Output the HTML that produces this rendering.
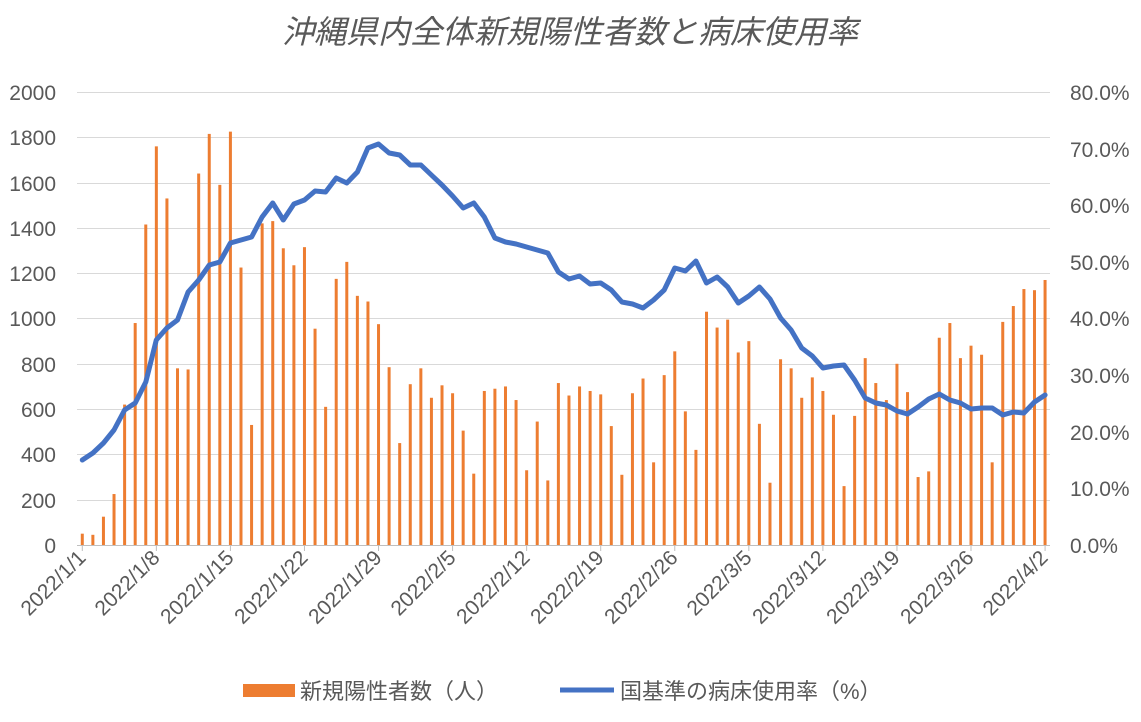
<!DOCTYPE html>
<html><head><meta charset="utf-8"><style>
body{margin:0;background:#fff}
svg{font-family:"Liberation Sans","Noto Sans CJK JP",sans-serif}
</style></head><body>
<svg id="c" width="1141" height="717" viewBox="0 0 1141 717" xmlns="http://www.w3.org/2000/svg">
<rect width="1141" height="717" fill="#fff"/>
<text x="570" y="43" text-anchor="middle" font-size="32" font-style="italic" fill="#595959" font-family="'Noto Sans CJK JP',sans-serif">沖縄県内全体新規陽性者数と病床使用率</text>
<g stroke="#d9d9d9" stroke-width="1">
<line x1="77" x2="1050" y1="92.5" y2="92.5"/><line x1="77" x2="1050" y1="137.5" y2="137.5"/>
<line x1="77" x2="1050" y1="183.5" y2="183.5"/><line x1="77" x2="1050" y1="228.5" y2="228.5"/>
<line x1="77" x2="1050" y1="273.5" y2="273.5"/><line x1="77" x2="1050" y1="318.5" y2="318.5"/>
<line x1="77" x2="1050" y1="364.5" y2="364.5"/><line x1="77" x2="1050" y1="409.5" y2="409.5"/>
<line x1="77" x2="1050" y1="454.5" y2="454.5"/><line x1="77" x2="1050" y1="500.5" y2="500.5"/>
</g>
<g font-size="21" fill="#595959" text-anchor="end">
<text x="56" y="100">2000</text><text x="56" y="145">1800</text><text x="56" y="191">1600</text>
<text x="56" y="236">1400</text><text x="56" y="281">1200</text><text x="56" y="326">1000</text>
<text x="56" y="372">800</text><text x="56" y="417">600</text><text x="56" y="462">400</text>
<text x="56" y="508">200</text><text x="56" y="553">0</text>
</g>
<g font-size="21" fill="#595959" text-anchor="start">
<text x="1070" y="100">80.0%</text><text x="1070" y="157">70.0%</text><text x="1070" y="213">60.0%</text>
<text x="1070" y="270">50.0%</text><text x="1070" y="326">40.0%</text><text x="1070" y="383">30.0%</text>
<text x="1070" y="440">20.0%</text><text x="1070" y="496">10.0%</text><text x="1070" y="553">0.0%</text>
</g>
<g id="bars" fill="#ed7d31"></g>
<line x1="77" x2="1050" y1="545.5" y2="545.5" stroke="#bfbfbf"/>
<g id="ticks" stroke="#bfbfbf"></g>
<polyline id="ln" fill="none" stroke="#4472c4" stroke-width="5" stroke-linejoin="round" stroke-linecap="round"/>
<g font-size="21" fill="#595959" text-anchor="end">
<text transform="translate(87,559) rotate(-45)">2022/1/1</text>
<text transform="translate(161,559) rotate(-45)">2022/1/8</text>
<text transform="translate(235,559) rotate(-45)">2022/1/15</text>
<text transform="translate(309,559) rotate(-45)">2022/1/22</text>
<text transform="translate(383,559) rotate(-45)">2022/1/29</text>
<text transform="translate(457,559) rotate(-45)">2022/2/5</text>
<text transform="translate(531,559) rotate(-45)">2022/2/12</text>
<text transform="translate(605,559) rotate(-45)">2022/2/19</text>
<text transform="translate(679,559) rotate(-45)">2022/2/26</text>
<text transform="translate(753,559) rotate(-45)">2022/3/5</text>
<text transform="translate(827,559) rotate(-45)">2022/3/12</text>
<text transform="translate(901,559) rotate(-45)">2022/3/19</text>
<text transform="translate(975,559) rotate(-45)">2022/3/26</text>
<text transform="translate(1049,559) rotate(-45)">2022/4/2</text>
</g>
<rect x="243" y="684" width="52" height="13" fill="#ed7d31"/>
<text x="300" y="699" font-size="22" fill="#595959">新規陽性者数（人）</text>
<line x1="560" x2="614" y1="690" y2="690" stroke="#4472c4" stroke-width="5"/>
<text x="620" y="699" font-size="22" fill="#595959">国基準の病床使用率（%）</text>
</svg>
<script>
var v=[50,45,125,225,620,980,1415,1760,1530,780,775,1640,1815,1590,1825,1225,530,1420,1430,1310,1235,1315,955,610,1175,1250,1100,1075,975,785,450,
710,780,650,705,670,505,315,680,690,700,640,330,545,285,715,660,700,680,665,525,310,670,735,365,750,855,590,420,
1030,960,995,850,900,535,275,820,780,650,740,680,575,260,570,825,715,640,800,675,300,325,915,980,825,880,840,365,985,1055,1130,
1125,1170];
var l=[460,453,443,430,410,403,382,340,328,320,292,280,265,262,243,240,237,217,203,220,204,200,191,192,178,183,172,148,144,153,155,
165,165,175,185,196,208,203,217,238,242,244,247,250,253,272,279,276,284,283,290,302,304,308,300,290,268,271,261,
283,277,287,303,296,287,299,318,330,348,356,368,366,365,380,398,403,405,411,414,407,399,394,400,403,409,408,408,415,412,413,
402,395];
var ns="http://www.w3.org/2000/svg",b=document.getElementById("bars"),t=document.getElementById("ticks"),pts=[];
var w=10.58,x0=77;
for(var i=0;i<v.length;i++){var cx=x0+w*(i+0.5),h=v[i]*453/2000;
var r=document.createElementNS(ns,"rect");r.setAttribute("x",cx-1.5);r.setAttribute("width",3);r.setAttribute("y",545-h);r.setAttribute("height",h);b.appendChild(r);
pts.push(cx.toFixed(1)+","+l[i]);}
for(var k=0;k<=13;k++){var x=x0+w*(k*7)+w*0.5;var q=document.createElementNS(ns,"line");q.setAttribute("x1",x);q.setAttribute("x2",x);q.setAttribute("y1",545);q.setAttribute("y2",551);t.appendChild(q);}
document.getElementById("ln").setAttribute("points",pts.join(" "));
</script>
</body></html>
